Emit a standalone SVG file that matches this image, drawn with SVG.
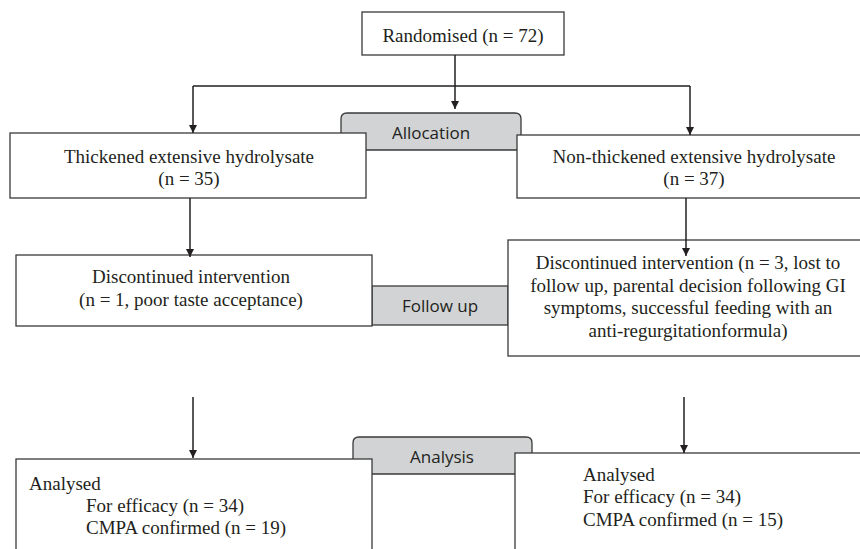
<svg xmlns="http://www.w3.org/2000/svg" width="860" height="549" viewBox="0 0 860 549">
<style>
.box{fill:#fff;stroke:#3a3a3a;stroke-width:1.3}
.tab{fill:#d1d3d4;stroke:#3a3a3a;stroke-width:1.3}
.t{font-family:"Liberation Serif","Times New Roman",serif;font-size:19px;fill:#231f20}
.s{font-family:"Open Sans","Liberation Sans",sans-serif;font-size:17px;fill:#231f20}
.c{text-anchor:middle}
.ln{fill:none;stroke:#231f20;stroke-width:1.5}
</style>
<defs>
<marker id="ah" viewBox="0 0 10 10" refX="10" refY="5" markerWidth="8" markerHeight="8" markerUnits="userSpaceOnUse" orient="auto">
<path d="M0,0 L10,5 L0,10 Z" fill="#231f20"/>
</marker>
</defs>
<rect width="860" height="549" fill="#fff"/>
<g id="tab-allocation">
<path class="tab" d="M341,150 V119 Q341,113 347,113 H515 Q521,113 521,119 V150 Z"/>
<text class="s c" x="431" y="139">Allocation</text>
</g>
<g id="tab-followup">
<rect class="tab" x="372" y="286" width="136" height="39"/>
<text class="s c" x="440" y="312">Follow up</text>
</g>
<g id="tab-analysis">
<path class="tab" d="M353,474 V443 Q353,437 359,437 H526 Q532,437 532,443 V474 Z"/>
<text class="s c" x="442" y="463">Analysis</text>
</g>
<g id="randomised">
<rect class="box" x="362" y="12" width="202" height="43"/>
<text class="t c" x="463" y="42">Randomised (n = 72)</text>
</g>
<g id="thickened">
<rect class="box" x="10" y="133" width="356" height="65"/>
<text class="t c" x="189" y="163">Thickened extensive hydrolysate</text>
<text class="t c" x="189" y="185">(n = 35)</text>
</g>
<g id="nonthickened">
<rect class="box" x="517" y="135" width="360" height="63"/>
<text class="t c" x="694" y="163">Non-thickened extensive hydrolysate</text>
<text class="t c" x="694" y="185">(n = 37)</text>
</g>
<g id="disc-left">
<rect class="box" x="16" y="255" width="356" height="71"/>
<text class="t c" x="191" y="283">Discontinued intervention</text>
<text class="t c" x="191" y="306">(n = 1, poor taste acceptance)</text>
</g>
<g id="disc-right">
<rect class="box" x="508" y="240" width="370" height="116"/>
<text class="t c" x="688" y="269">Discontinued intervention (n = 3, lost to</text>
<text class="t c" x="688" y="292">follow up, parental decision following GI</text>
<text class="t c" x="688" y="314">symptoms, successful feeding with an</text>
<text class="t c" x="688" y="337">anti-regurgitationformula)</text>
</g>
<g id="analysed-left">
<rect class="box" x="16" y="459" width="356" height="110"/>
<text class="t" x="29" y="490">Analysed</text>
<text class="t" x="86" y="512">For efficacy (n = 34)</text>
<text class="t" x="86" y="534">CMPA confirmed (n = 19)</text>
</g>
<g id="analysed-right">
<rect class="box" x="515" y="453" width="360" height="110"/>
<text class="t" x="583" y="481">Analysed</text>
<text class="t" x="583" y="503">For efficacy (n = 34)</text>
<text class="t" x="583" y="526">CMPA confirmed (n = 15)</text>
</g>
<g id="connectors">
<path class="ln" d="M455,55 V109" marker-end="url(#ah)"/>
<path class="ln" d="M193,86 H690"/>
<path class="ln" d="M193,86 V133" marker-end="url(#ah)"/>
<path class="ln" d="M690,86 V135" marker-end="url(#ah)"/>
<path class="ln" d="M190,198 V257" marker-end="url(#ah)"/>
<path class="ln" d="M686,198 V256" marker-end="url(#ah)"/>
<path class="ln" d="M193,397 V458" marker-end="url(#ah)"/>
<path class="ln" d="M684,397 V453" marker-end="url(#ah)"/>
</g>
</svg>
